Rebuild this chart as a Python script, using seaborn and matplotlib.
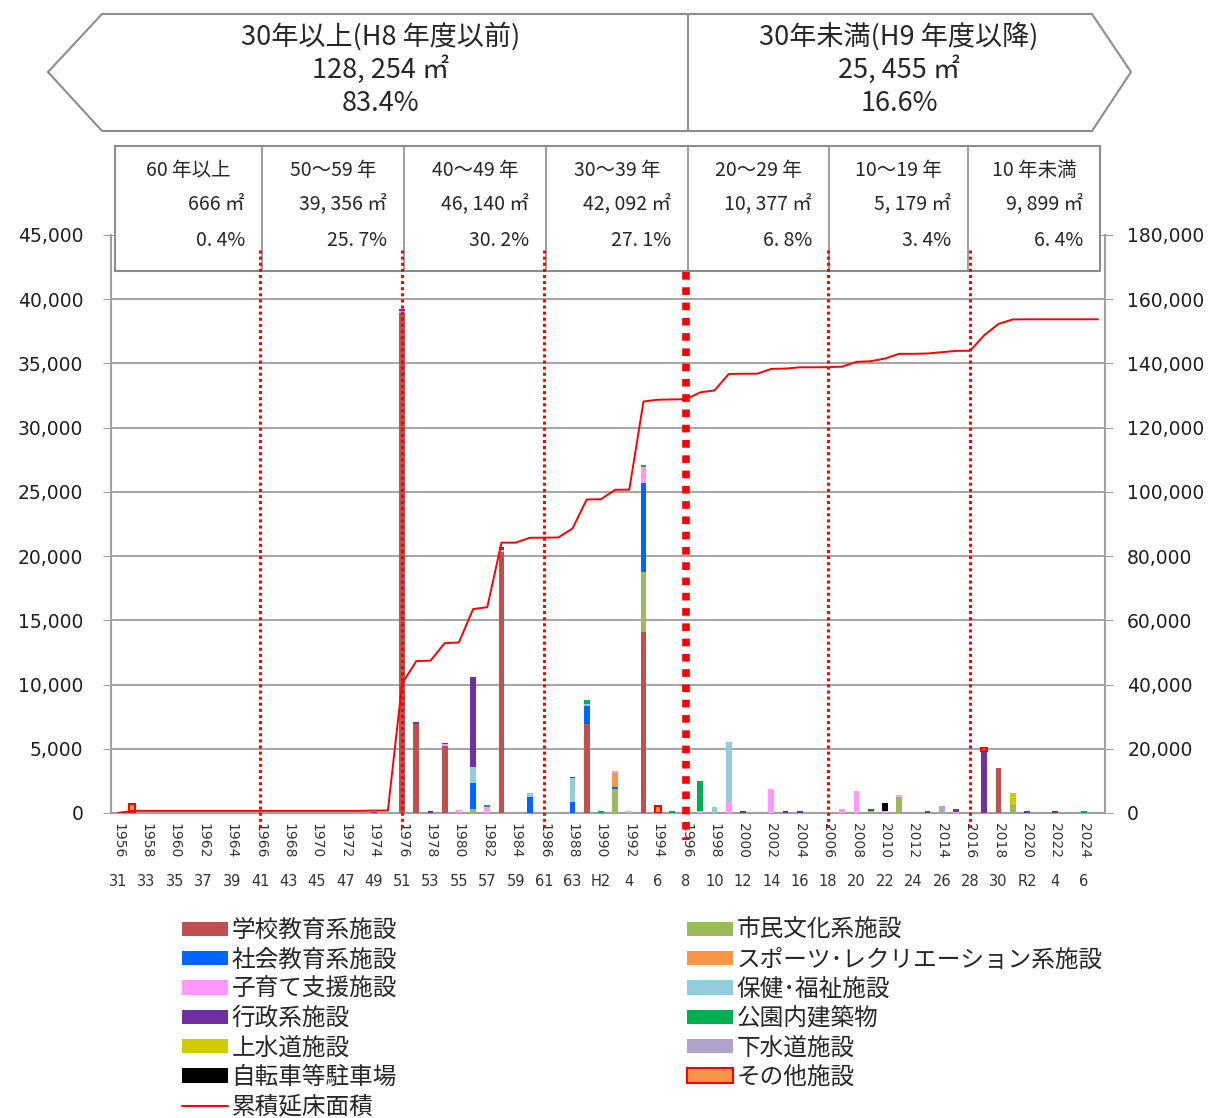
import numpy as np
import pandas as pd
import matplotlib
matplotlib.use('Agg')
import matplotlib.pyplot as plt
from matplotlib.patches import Polygon, Rectangle, Patch
from matplotlib.lines import Line2D
import seaborn as sns

# Categories: fiscal years on the x axis
years = list(range(1956, 2026))
year_labels = ['1956', '1958', '1960', '1962', '1964', '1966', '1968', '1970', '1972', '1974',
               '1976', '1978', '1980', '1982', '1984', '1986', '1988', '1990', '1992', '1994',
               '1996', '1998', '2000', '2002', '2004', '2006', '2008', '2010', '2012', '2014',
               '2016', '2018', '2020', '2022', '2024']
era_labels = ['31', '33', '35', '37', '39', '41', '43', '45', '47', '49', '51', '53', '55', '57',
              '59', '61', '63', 'H2', '4', '6', '8', '10', '12', '14', '16', '18', '20', '22',
              '24', '26', '28', '30', 'R2', '4', '6']

# Floor area (m2) per facility type, only the years with a bar
school = {1976: 38950, 1977: 6950, 1979: 5250, 1983: 20350, 1989: 6930, 1993: 14120, 2018: 3530}
culture = {1981: 300, 1991: 1840, 1993: 4620, 2009: 130, 2011: 1270, 2019: 620}
social_edu = {1981: 2060, 1985: 1250, 1988: 880, 1989: 1430, 1991: 160, 1993: 6930}
sports = {1991: 1140}
childcare = {1976: 150, 1979: 100, 1980: 250, 1982: 450, 1991: 130, 1993: 1250, 1997: 180,
             1999: 880, 2002: 1870, 2007: 310, 2008: 1740, 2010: 130, 2011: 160, 2015: 100}
welfare = {1981: 1200, 1983: 150, 1985: 330, 1988: 1820, 1989: 150, 1992: 180, 1998: 440, 1999: 4670}
admin = {1974: 100, 1976: 150, 1977: 150, 1978: 150, 1979: 100, 1981: 7030, 1983: 200, 1988: 130,
         2000: 180, 2003: 180, 2004: 180, 2009: 180, 2013: 180, 2015: 210, 2017: 4850, 2020: 180,
         2022: 180}
park = {1982: 150, 1989: 280, 1990: 180, 1993: 180, 1995: 180, 1997: 2340, 2024: 180}
water = {2019: 960}
sewer = {2014: 570}
bicycle = {2010: 620}
other = {1957: 666, 1994: 570, 2017: 180}

# Cumulative floor area (right axis), one value per year 1956-2025
cumulative = [0, 666, 666, 666, 666, 666, 666, 666, 666, 666, 666, 666, 666, 666, 666, 666, 666, 666,
              760, 790, 40300, 47300, 47450, 52900, 53100, 63500, 64100, 84200, 84200, 85700,
              85750, 85800, 88600, 97650, 97700, 100650, 100700, 128150, 128700, 128800,
              128850, 131000, 131600, 136700, 136800, 136800, 138300, 138400, 138800, 138800,
              138850, 139000, 140500, 140700, 141500, 143000, 143000, 143100, 143500, 143900,
              143950, 148800, 152300, 153700, 153750, 153750, 153750, 153750, 153750, 153750]

# Header texts
age_labels = ['60 年以上', '50～59 年', '40～49 年', '30～39 年', '20～29 年', '10～19 年', '10 年未満']
age_areas = ['666 ㎡', '39, 356 ㎡', '46, 140 ㎡', '42, 092 ㎡', '10, 377 ㎡', '5, 179 ㎡', '9, 899 ㎡']
age_shares = ['0. 4%', '25. 7%', '30. 2%', '27. 1%', '6. 8%', '3. 4%', '6. 4%']
old_lines = ['30年以上(H8 年度以前)', '128, 254 ㎡', '83.4%']
new_lines = ['30年未満(H9 年度以降)', '25, 455 ㎡', '16.6%']

# stacking order (bottom -> top): name, values, colour
series = [
    ('学校教育系施設', school, '#C0504D'),
    ('市民文化系施設', culture, '#9BBB59'),
    ('社会教育系施設', social_edu, '#0066FF'),
    ('スポーツ･レクリエーション系施設', sports, '#F79646'),
    ('子育て支援施設', childcare, '#FF99FF'),
    ('保健･福祉施設', welfare, '#92CDDC'),
    ('行政系施設', admin, '#7030A0'),
    ('公園内建築物', park, '#00B050'),
    ('上水道施設', water, '#CCCC00'),
    ('下水道施設', sewer, '#B3A2C7'),
    ('自転車等駐車場', bicycle, '#000000'),
    ('その他施設', other, '#F79646'),
]

sns.set_style('white')
plt.rcParams['font.family'] = ['Noto Sans CJK JP', 'DejaVu Sans']

W, H = 1210, 1118
def fx(px):
    return px / W
def fy(py):
    return 1 - py / H

fig = plt.figure(figsize=(W / 100, H / 100), dpi=100)
ax = fig.add_axes([fx(111), fy(813), fx(1105) - fx(111), fy(235) - fy(813)])

df = pd.DataFrame({'idx': np.arange(len(years))})
bottom = np.zeros(len(years))
for name, vals, color in series:
    h = np.array([vals.get(y, 0) for y in years], dtype=float)
    df['h'] = h
    edge = '#FF0000' if name == 'その他施設' else 'none'
    lw = 1.5 if name == 'その他施設' else 0
    sns.barplot(data=df, x='idx', y='h', native_scale=True, width=0.42, color=color,
                saturation=1, bottom=bottom.copy(), edgecolor=edge, linewidth=lw,
                errorbar=None, ax=ax, zorder=3)
    if name == 'その他施設':
        for p in ax.containers[-1]:
            if p.get_height() == 0:
                p.set_linewidth(0)
    bottom += h

ax.set_xlim(-0.5, len(years) - 0.5)
ax.set_ylim(0, 45000)
ax.set_yticks(range(0, 45001, 5000))
ax.set_yticklabels([f'{v:,}' for v in range(0, 45001, 5000)])
ax.grid(axis='y', color='#a6a6a6', lw=1.5)
ax.set_axisbelow(True)
ax.set_xlabel('')
ax.set_ylabel('')

ax.set_xticks(np.arange(0, len(years), 2))
ax.set_xticklabels(year_labels, rotation=-90, fontsize=10, color='#333333')
ax.set_xticks(np.arange(-0.5, len(years), 1), minor=True)
ax.tick_params(axis='x', which='major', length=0, pad=7)
ax.tick_params(axis='x', which='minor', length=58, color='#c8c8c8', width=1)
ax.tick_params(axis='y', length=6, color='#a0a0a0', pad=14, labelsize=13.5, labelcolor='#1f1f1f')
for lab in ax.get_yticklabels() + ax.get_xticklabels():
    lab.set_fontfamily('DejaVu Sans')
for i, lab in zip(range(0, len(years), 2), era_labels):
    ax.text(i, -0.119, lab, transform=ax.get_xaxis_transform(), ha='center', va='center',
            fontsize=10.5, color='#333333', family='DejaVu Sans')

for s in ['top', 'right']:
    ax.spines[s].set_visible(False)
for s in ['left', 'bottom']:
    ax.spines[s].set_color('#a0a0a0')
    ax.spines[s].set_linewidth(1.5)

# cumulative line on the right axis
ax2 = ax.twinx()
sns.lineplot(x=np.arange(len(years)), y=cumulative, ax=ax2, color='#FF0000', linewidth=1.4)
ax2.set_xlim(-0.5, len(years) - 0.5)
ax2.set_ylim(0, 180000)
ax2.set_yticks(range(0, 180001, 20000))
ax2.set_yticklabels([f'{v:,}' for v in range(0, 180001, 20000)])
ax2.tick_params(axis='y', length=6, color='#a0a0a0', pad=10, labelsize=13.5, labelcolor='#1f1f1f')
for lab in ax2.get_yticklabels():
    lab.set_fontfamily('DejaVu Sans')
ax2.set_ylabel('')
for s in ['top', 'left', 'bottom']:
    ax2.spines[s].set_visible(False)
ax2.spines['right'].set_color('#a0a0a0')
ax2.spines['right'].set_linewidth(1.5)

# age band boxes over the top of the plot
box_edges = [115, 262, 404, 546, 688, 829, 968, 1100]
ax2.add_patch(Rectangle((fx(115), fy(271)), fx(1100) - fx(115), fy(146) - fy(271),
                        transform=fig.transFigure, facecolor='white', edgecolor='#8c8c8c',
                        lw=1.5, clip_on=False, zorder=5))
for xe in box_edges[1:-1]:
    ax2.add_line(Line2D([fx(xe), fx(xe)], [fy(271), fy(146)], transform=fig.transFigure,
                        color='#8c8c8c', lw=1.2, clip_on=False, zorder=5))
for k in range(7):
    cx = (box_edges[k] + box_edges[k + 1]) / 2
    rx = box_edges[k + 1] - 17
    fig.text(fx(cx), fy(170), age_labels[k], ha='center', va='center', fontsize=14)
    fig.text(fx(rx), fy(204), age_areas[k], ha='right', va='center', fontsize=14)
    fig.text(fx(rx), fy(240), age_shares[k], ha='right', va='center', fontsize=14)

# red dotted separators
for i in [10, 20, 30, 50, 60]:
    ax2.plot([i, i], [(813 - 250) / 578, (813 - 828) / 578], transform=ax2.get_xaxis_transform(),
             color='#FF0000', lw=2.2, ls=(0, (1, 1)), clip_on=False, zorder=6)
ax2.plot([40, 40], [(813 - 272) / 578, (813 - 840) / 578], transform=ax2.get_xaxis_transform(),
         color='#FF0000', lw=5.5, ls=(0, (1, 1)), clip_on=False, zorder=6)

# top banner (double arrow)
banner = Polygon([(fx(102), fy(14)), (fx(1092), fy(14)), (fx(1131), fy(72)), (fx(1092), fy(131)),
                  (fx(102), fy(131)), (fx(48), fy(72))], closed=True, transform=fig.transFigure,
                 facecolor='white', edgecolor='#8c8c8c', lw=1.5)
fig.add_artist(banner)
fig.add_artist(Line2D([fx(688), fx(688)], [fy(14), fy(131)], transform=fig.transFigure,
                      color='#8c8c8c', lw=1.5))
for row, yy in enumerate([36, 70, 104]):
    fig.text(fx(381), fy(yy), old_lines[row], ha='center', va='center', fontsize=19.5)
    fig.text(fx(899), fy(yy), new_lines[row], ha='center', va='center', fontsize=19.5)

# legend
handles = []
labels = []
col1 = ['学校教育系施設', '社会教育系施設', '子育て支援施設', '行政系施設', '上水道施設', '自転車等駐車場']
col2 = ['市民文化系施設', 'スポーツ･レクリエーション系施設', '保健･福祉施設', '公園内建築物', '下水道施設', 'その他施設']
colors = {name: c for name, _, c in series}
for name in col1:
    handles.append(Patch(facecolor=colors[name], edgecolor='none'))
    labels.append(name)
handles.append(Line2D([], [], color='#FF0000', lw=1.5))
labels.append('累積延床面積')
for name in col2:
    if name == 'その他施設':
        handles.append(Patch(facecolor=colors[name], edgecolor='#FF0000', lw=1.5))
    else:
        handles.append(Patch(facecolor=colors[name], edgecolor='none'))
    labels.append(name)
fig.legend(handles, labels, ncol=2, loc='upper left', bbox_to_anchor=(fx(182), fy(919)),
           frameon=False, fontsize=17, handlelength=1.95, handleheight=0.55, handletextpad=0.15,
           labelspacing=0.27, columnspacing=12.3, borderpad=0, borderaxespad=0)

fig.savefig('out.png', dpi=100)
